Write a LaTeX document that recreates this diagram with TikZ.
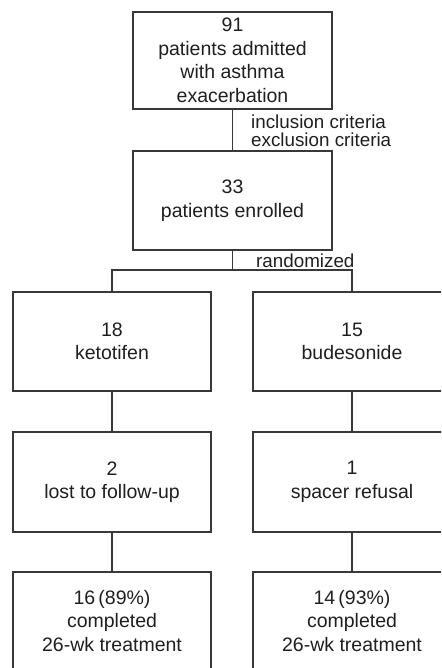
\documentclass[tikz,border=0pt]{standalone}
\usepackage{fontspec}
\setmainfont{Liberation Sans}
\begin{document}
\begin{tikzpicture}[x=1pt,y=-1pt,
  flowbox/.style={draw=black!78, line width=1.2pt, rectangle, inner sep=0pt,
    minimum width=198pt, align=center, text=black!88,
    font=\fontsize{19.5}{23.5}\selectfont},
  conn/.style={draw=black!78, line width=1.2pt},
  lbl/.style={inner sep=0pt, align=left, anchor=west, text=black!88,
    font=\fontsize{18.8}{17.5}\selectfont}]
\useasboundingbox (0,0) rectangle (441,668);
\clip (0,0) rectangle (441,668);
\node[flowbox, minimum width=199pt, minimum height=97pt] (top) at (232.5,60.5)
  {91\\patients admitted\\with asthma\\exacerbation};
\node[flowbox, minimum width=199pt, minimum height=99pt] (mid) at (232.5,200.5)
  {33\\patients enrolled};
\node[flowbox, minimum height=99pt] (k1) at (112,341.5) {18\\ketotifen};
\node[flowbox, minimum height=99pt] (b1) at (352,341.5) {15\\budesonide};
\node[flowbox, minimum height=100pt] (k2) at (112,482) {2\\lost to follow-up};
\node[flowbox, minimum height=100pt] (b2) at (352,482) {1\\spacer refusal};
\node[flowbox, minimum height=98pt] (k3) at (112,621) {16\,(89\%)\\completed\\26-wk treatment};
\node[flowbox, minimum height=98pt] (b3) at (352,621) {14\,(93\%)\\completed\\26-wk treatment};
\coordinate (j) at (232.5,270);
\draw[conn] (top.south) -- (mid.north);
\draw[conn] (mid.south) -- (j);
\draw[conn] (k1.north) |- (j) -| (b1.north);
\draw[conn] (k1.south) -- (k2.north);
\draw[conn] (b1.south) -- (b2.north);
\draw[conn] (k2.south) -- (k3.north);
\draw[conn] (b2.south) -- (b3.north);
\node[lbl] (crit) at (251,131) {inclusion criteria\\exclusion criteria};
\node[lbl] (rand) at (256,261) {randomized};
\end{tikzpicture}
\end{document}
